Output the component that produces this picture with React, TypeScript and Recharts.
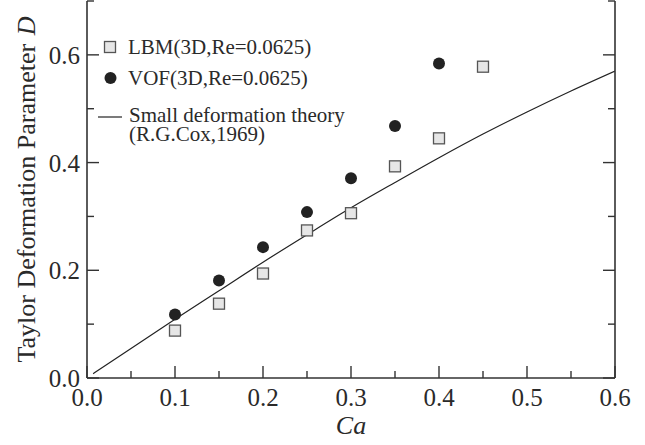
import React from 'react';
import { ComposedChart, Scatter, Line, XAxis, YAxis, Legend, Label } from 'recharts';

// ---- data ----
const lbmCa = [0.1, 0.15, 0.2, 0.25, 0.3, 0.35, 0.4, 0.45];
const lbmD = [0.088, 0.138, 0.194, 0.274, 0.306, 0.393, 0.445, 0.578];
const vofCa = [0.1, 0.15, 0.2, 0.25, 0.3, 0.35, 0.4];
const vofD = [0.118, 0.181, 0.243, 0.308, 0.371, 0.468, 0.584];
const theoryCa = [0.007, 0.05, 0.1, 0.15, 0.2, 0.25, 0.3, 0.35, 0.4, 0.45, 0.5, 0.55, 0.6];
const theoryD = [0.008, 0.055, 0.109, 0.162, 0.215, 0.266, 0.316, 0.363, 0.409, 0.453, 0.494, 0.533, 0.57];

const xTicks = [0, 0.05, 0.1, 0.15, 0.2, 0.25, 0.3, 0.35, 0.4, 0.45, 0.5, 0.55, 0.6];
const xMajor = [0, 0.1, 0.2, 0.3, 0.4, 0.5, 0.6];
const xLabels = ['0.0', '0.1', '0.2', '0.3', '0.4', '0.5', '0.6'];
const yTicks = [0, 0.1, 0.2, 0.3, 0.4, 0.5, 0.6, 0.7];
const yMajor = [0, 0.2, 0.4, 0.6];
const yLabels = ['0.0', '0.2', '0.4', '0.6'];

const seriesNames = ['LBM(3D,Re=0.0625)', 'VOF(3D,Re=0.0625)', 'Small deformation theory', '(R.G.Cox,1969)'];
const xTitle = 'Ca';
const yTitle = 'Taylor Deformation Parameter ';
const yTitleItalic = 'D';

const lbmData = lbmCa.map((ca, i) => ({ ca, d: lbmD[i] }));
const vofData = vofCa.map((ca, i) => ({ ca, d: vofD[i] }));
const theoryData = theoryCa.map((ca, i) => ({ ca, d: theoryD[i] }));

const FONT = "'Liberation Serif', 'Times New Roman', serif";
const AX = '#333';
const TXT = '#2a2a2a';
const MAJ = 12;
const MIN = 7;

const majorIndex = (arr: number[], v: number) => arr.findIndex((m) => Math.abs(m - v) < 1e-9);

const BottomTick = (p: any) => {
  const { x, y, payload } = p;
  const idx = majorIndex(xMajor, payload.value);
  const len = idx >= 0 ? MAJ : MIN;
  return (
    <g>
      <line x1={x} y1={y} x2={x} y2={y - len} stroke={AX} strokeWidth={1.4} />
      {idx >= 0 && (
        <text x={x} y={y + 28} textAnchor="middle" fontFamily={FONT} fontSize={25} fill={TXT}>
          {xLabels[idx]}
        </text>
      )}
    </g>
  );
};

const TopTick = (p: any) => {
  const { x, y, payload } = p;
  const idx = majorIndex(xMajor, payload.value);
  const len = idx >= 0 ? MAJ : MIN;
  return <line x1={x} y1={y} x2={x} y2={y + len} stroke={AX} strokeWidth={1.4} />;
};

const LeftTick = (p: any) => {
  const { x, y, payload } = p;
  const idx = majorIndex(yMajor, payload.value);
  const len = idx >= 0 ? MAJ : MIN;
  return (
    <g>
      <line x1={x} y1={y} x2={x + len} y2={y} stroke={AX} strokeWidth={1.4} />
      {idx >= 0 && (
        <text x={x - 7} y={y + 9} textAnchor="end" fontFamily={FONT} fontSize={25} fill={TXT}>
          {yLabels[idx]}
        </text>
      )}
    </g>
  );
};

const RightTick = (p: any) => {
  const { x, y, payload } = p;
  const idx = majorIndex(yMajor, payload.value);
  const len = idx >= 0 ? MAJ : MIN;
  return <line x1={x} y1={y} x2={x - len} y2={y} stroke={AX} strokeWidth={1.4} />;
};

const SquareShape = (p: any) => {
  const { cx, cy } = p;
  if (cx == null || cy == null) return null;
  return <rect x={cx - 5.5} y={cy - 5.5} width={11} height={11} fill="#e6e6e6" stroke="#555" strokeWidth={1.3} />;
};

const CircleShape = (p: any) => {
  const { cx, cy } = p;
  if (cx == null || cy == null) return null;
  return <circle cx={cx} cy={cy} r={6} fill="#222" />;
};

const XTitle = (p: any) => {
  const vb = p.viewBox || { x: 87, y: 378, width: 528, height: 67 };
  return (
    <text x={vb.x + vb.width / 2} y={vb.y + 56} textAnchor="middle" fontFamily={FONT} fontSize={26} fontStyle="italic" fill={TXT}>
      {xTitle}
    </text>
  );
};

const YTitle = (p: any) => {
  const vb = p.viewBox || { x: 0, y: 1, width: 87, height: 377 };
  const cx = vb.x + 35;
  const cy = vb.y + vb.height / 2;
  return (
    <text x={cx} y={cy} transform={`rotate(-90, ${cx}, ${cy})`} textAnchor="middle" fontFamily={FONT} fontSize={26} fill={TXT}>
      {yTitle}
      <tspan fontStyle="italic" dx={2}>{yTitleItalic}</tspan>
    </text>
  );
};

const LegendContent = () => (
  <svg width={260} height={125} style={{ display: 'block' }}>
    <rect x={9.5} y={11.5} width={11} height={11} fill="#e6e6e6" stroke="#555" strokeWidth={1.3} />
    <text x={33} y={24} fontFamily={FONT} fontSize={21} fill={TXT}>{seriesNames[0]}</text>
    <circle cx={15.5} cy={48} r={6} fill="#222" />
    <text x={33} y={55} fontFamily={FONT} fontSize={21} fill={TXT}>{seriesNames[1]}</text>
    <line x1={3} y1={87} x2={27} y2={87} stroke="#222" strokeWidth={1.2} />
    <text x={34} y={92} fontFamily={FONT} fontSize={21} fill={TXT}>{seriesNames[2]}</text>
    <text x={34} y={110.5} fontFamily={FONT} fontSize={21} fill={TXT}>{seriesNames[3]}</text>
  </svg>
);

export default function App() {
  return (
    <div style={{ position: 'absolute', left: 0, top: 0, background: '#fff' }}>
      <ComposedChart width={645} height={445} margin={{ top: 1, right: 0, bottom: 0, left: 0 }}>
        <XAxis
          xAxisId={0}
          type="number"
          dataKey="ca"
          domain={[0, 0.6]}
          ticks={xTicks}
          interval={0}
          tickSize={0}
          tickMargin={0}
          tickLine={false}
          tick={<BottomTick />}
          axisLine={{ stroke: AX, strokeWidth: 1.6 }}
          height={67}
          allowDataOverflow
        >
          <Label content={<XTitle />} />
        </XAxis>
        <XAxis
          xAxisId="top"
          orientation="top"
          type="number"
          dataKey="ca"
          domain={[0, 0.6]}
          ticks={xTicks}
          interval={0}
          tickSize={0}
          tickMargin={0}
          tickLine={false}
          tick={<TopTick />}
          axisLine={{ stroke: AX, strokeWidth: 1.6 }}
          height={0}
          allowDataOverflow
        />
        <YAxis
          yAxisId={0}
          type="number"
          domain={[0, 0.7]}
          ticks={yTicks}
          interval={0}
          tickSize={0}
          tickMargin={0}
          tickLine={false}
          tick={<LeftTick />}
          axisLine={{ stroke: AX, strokeWidth: 1.6 }}
          width={87}
          allowDataOverflow
        >
          <Label content={<YTitle />} />
        </YAxis>
        <YAxis
          yAxisId="right"
          orientation="right"
          type="number"
          domain={[0, 0.7]}
          ticks={yTicks}
          interval={0}
          tickSize={0}
          tickMargin={0}
          tickLine={false}
          tick={<RightTick />}
          axisLine={{ stroke: AX, strokeWidth: 1.6 }}
          width={30}
          allowDataOverflow
        />
        <Line
          xAxisId={0}
          yAxisId={0}
          data={theoryData}
          dataKey="d"
          name={seriesNames[2]}
          type="monotone"
          stroke="#222"
          strokeWidth={1.2}
          dot={false}
          activeDot={false}
          isAnimationActive={false}
        />
        <Scatter
          xAxisId={0}
          yAxisId={0}
          data={lbmData}
          dataKey="d"
          name={seriesNames[0]}
          shape={<SquareShape />}
          isAnimationActive={false}
        />
        <Scatter
          xAxisId={0}
          yAxisId={0}
          data={vofData}
          dataKey="d"
          name={seriesNames[1]}
          shape={<CircleShape />}
          isAnimationActive={false}
        />
        <Legend
          layout="vertical"
          align="center"
          verticalAlign="middle"
          content={<LegendContent />}
          wrapperStyle={{ left: 95, top: 30, width: 260, height: 125 }}
        />
      </ComposedChart>
    </div>
  );
}
